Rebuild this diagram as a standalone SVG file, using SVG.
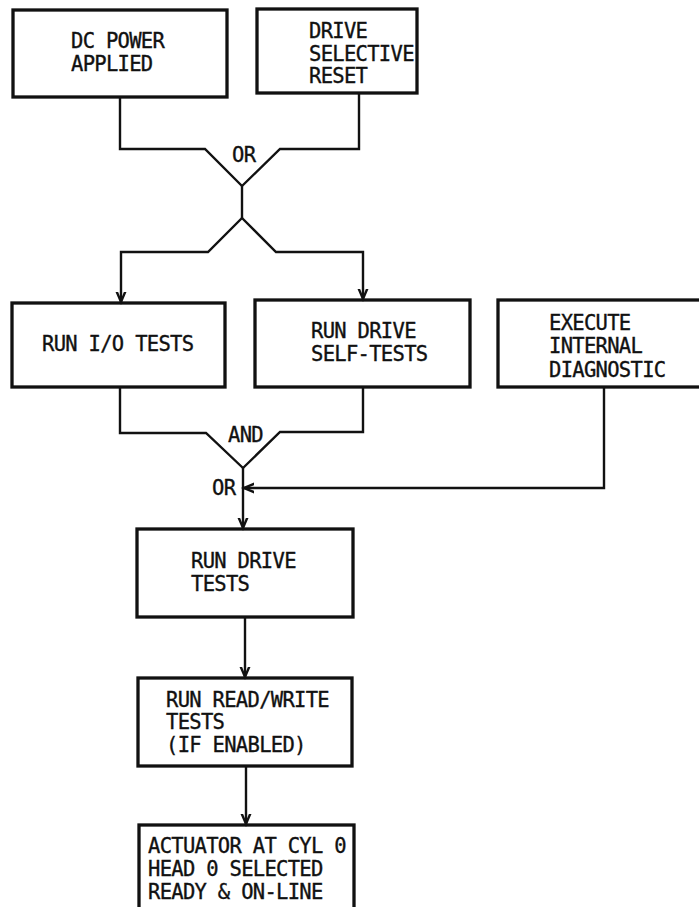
<svg xmlns="http://www.w3.org/2000/svg" width="699" height="907" viewBox="0 0 699 907">
<style>
.box{fill:#fff;stroke:#111;stroke-width:3.3}
.t{font-family:"DejaVu Sans Mono","Liberation Mono",monospace;font-size:20.5px;letter-spacing:-0.7px;fill:#111;stroke:#111;stroke-width:0.35}
.c{fill:none;stroke:#111;stroke-width:2.4;stroke-linejoin:miter}
</style>
<defs>
<marker id="ah" markerUnits="userSpaceOnUse" markerWidth="20" markerHeight="20" viewBox="-10 -10 20 20" refX="0" refY="0" orient="auto">
<path d="M-12,-5 L0,0 L-12,5" fill="none" stroke="#111" stroke-width="2.4"/>
</marker>
</defs>
<rect width="699" height="907" fill="#fff"/>
<g id="n-dcpower"><rect class="box" x="13" y="10" width="214" height="87"/><text class="t" x="71" y="48">DC POWER</text><text class="t" x="71" y="71">APPLIED</text></g>
<g id="n-reset"><rect class="box" x="257" y="9" width="160" height="84"/><text class="t" x="309" y="38">DRIVE</text><text class="t" x="309" y="61">SELECTIVE</text><text class="t" x="309" y="83">RESET</text></g>
<g id="n-io"><rect class="box" x="12" y="303" width="213" height="84"/><text class="t" x="42" y="351">RUN I/O TESTS</text></g>
<g id="n-selftest"><rect class="box" x="255" y="300" width="215" height="87"/><text class="t" x="311" y="338">RUN DRIVE</text><text class="t" x="311" y="361">SELF-TESTS</text></g>
<g id="n-diag"><rect class="box" x="498" y="300" width="205" height="87"/><text class="t" x="549" y="330">EXECUTE</text><text class="t" x="549" y="353">INTERNAL</text><text class="t" x="549" y="377">DIAGNOSTIC</text></g>
<g id="n-drivetests"><rect class="box" x="137" y="529" width="216" height="88"/><text class="t" x="191" y="568">RUN DRIVE</text><text class="t" x="191" y="591">TESTS</text></g>
<g id="n-rw"><rect class="box" x="138" y="678" width="214" height="88"/><text class="t" x="166" y="707">RUN READ/WRITE</text><text class="t" x="166" y="729">TESTS</text><text class="t" x="166" y="752">(IF ENABLED)</text></g>
<g id="n-ready"><rect class="box" x="139" y="825" width="215" height="100"/><text class="t" x="148" y="853">ACTUATOR AT CYL 0</text><text class="t" x="148" y="876">HEAD 0 SELECTED</text><text class="t" x="148" y="899">READY &amp; ON-LINE</text></g>
<g id="connectors">
<path class="c" d="M120,97 V149 H205 L242,186"/>
<path class="c" d="M359,93 V149 H280 L242,186"/>
<path class="c" d="M242,186 V218"/>
<path class="c" d="M242,218 L208,252 H121 V302" marker-end="url(#ah)"/>
<path class="c" d="M242,218 L276,252 H363 V299" marker-end="url(#ah)"/>
<path class="c" d="M120,387 V433 H206 L243,468"/>
<path class="c" d="M363,387 V432 H280 L243,468"/>
<path class="c" d="M243,468 V528" marker-end="url(#ah)"/>
<path class="c" d="M604,387 V488 H244" marker-end="url(#ah)"/>
<path class="c" d="M245,617 V677" marker-end="url(#ah)"/>
<path class="c" d="M246,766 V824" marker-end="url(#ah)"/>
<text class="t" x="232" y="162">OR</text>
<text class="t" x="228" y="442">AND</text>
<text class="t" x="212" y="495">OR</text>
</g>
</svg>
